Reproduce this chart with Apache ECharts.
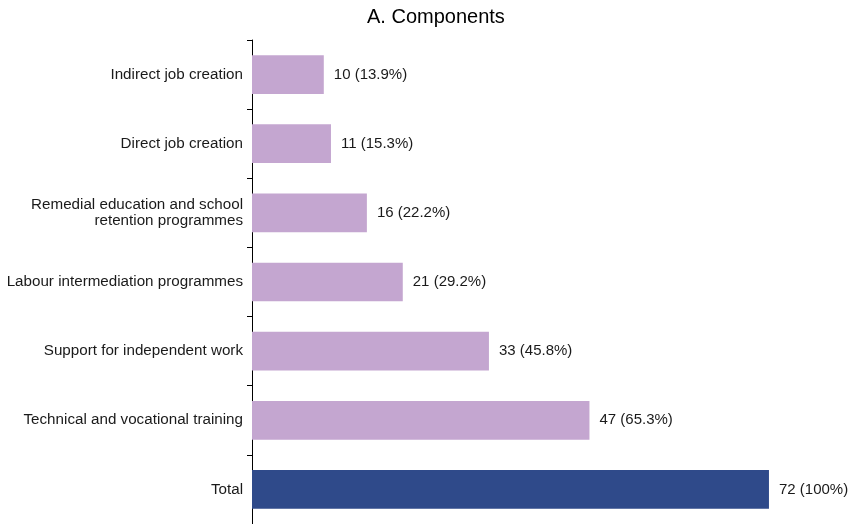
<!DOCTYPE html>
<html>
<head>
<meta charset="utf-8">
<script src="https://cdn.jsdelivr.net/npm/echarts@6/dist/echarts.min.js"></script>
<style>html,body{margin:0;padding:0;background:#fff;}#c{width:851px;height:524px;}</style>
</head>
<body>
<div id="c"></div>
<script>
var categories = ["Indirect job creation","Direct job creation","Remedial education and school\nretention programmes","Labour intermediation programmes","Support for independent work","Technical and vocational training","Total"];
var values = [10, 11, 16, 21, 33, 47, 72];
var shares = ["13.9%","15.3%","22.2%","29.2%","45.8%","65.3%","100%"];
var isTotal = [false,false,false,false,false,false,true];

var chart = echarts.init(document.getElementById('c'), null, {renderer:'canvas'});
chart.setOption({
  animation:false,
  title:{text:"A. Components", left:362, top:2,
    textStyle:{fontFamily:'Liberation Sans, Arial', fontSize:20, fontWeight:'normal', color:'#000'}},
  grid:{left:252, right:24.6, top:40, bottom:-0.5, containLabel:false},
  xAxis:{type:'value', min:0, max:80, show:false},
  yAxis:{type:'category', data:categories, inverse:true,
    axisLine:{show:true, lineStyle:{color:'#000', width:1}},
    axisTick:{show:true, length:5, lineStyle:{color:'#000'}},
    axisLabel:{fontFamily:'Liberation Sans, Arial', fontSize:15.2, color:'#1a1a1a', margin:9, align:'right', lineHeight:16}},
  series:[{type:'bar', barCategoryGap:'44%',
    data: values.map(function(v,i){return {value:v, itemStyle:{color: isTotal[i] ? '#2f4a8a' : '#c4a6d0'}};}),
    label:{show:true, position:'right', distance:10, fontFamily:'Liberation Sans, Arial', fontSize:15, color:'#1a1a1a',
      formatter:function(p){return values[p.dataIndex]+' ('+shares[p.dataIndex]+')';}}
  }]
});
</script>
</body>
</html>
